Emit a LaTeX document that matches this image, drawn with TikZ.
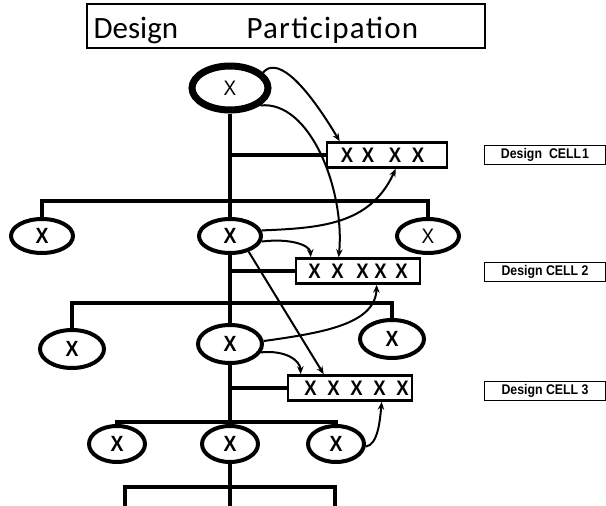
\documentclass[tikz,border=0pt]{standalone}
\usepackage{fontspec}
\setmainfont{Liberation Sans}
\newfontfamily\titlefont{Carlito}
\newfontfamily\xfont[UprightFont=* Bold,FakeStretch=0.88]{Liberation Sans}
\newfontfamily\xlight[FakeStretch=0.9]{Liberation Sans}
\usetikzlibrary{arrows.meta,shapes.geometric}
\tikzset{
  tree/.style={line width=3.4pt},
  person/.style={ellipse,draw,line width=4pt,minimum width=62pt,minimum height=34pt,inner sep=0pt,font=\xfont\fontsize{22}{22}\selectfont},
  cellbox/.style={draw,line width=2.6pt,minimum width=120pt,minimum height=25pt,inner sep=0pt,font=\xfont\fontsize{21}{21}\selectfont},
  lab/.style={draw,line width=1.6pt,minimum width=121pt,minimum height=19pt,inner sep=0pt,font=\xfont\fontsize{14}{14}\selectfont},
  arr/.style={line width=2pt,-{Stealth[length=8pt,width=6.5pt]}},
}
\begin{document}
\begin{tikzpicture}[x=1pt,y=-1pt]
\useasboundingbox (0,0) rectangle (606,506);
% title
\node[draw,line width=1.6pt,minimum width=398pt,minimum height=44pt,inner sep=0pt] (title) at (286,26) {};
\node[font=\titlefont\fontsize{31}{31}\selectfont,anchor=base west] (t1) at (90,38) {Design};
\node[font=\titlefont\fontsize{31}{31}\selectfont\addfontfeature{LetterSpace=4},anchor=base west] (t2) at (243,38) {Participation};
% top
\node[person,line width=7pt,minimum width=76pt,minimum height=44pt,font=\xlight\fontsize{21}{21}\selectfont] (top) at (230,88) {X};
% level 1
\node[person] (a1) at (42,236) {X};
\node[person] (a2) at (230,236) {X};
\node[person,font=\xlight\fontsize{21}{21}\selectfont] (a3) at (428,236) {X};
% level 2
\node[person,minimum width=64pt,minimum height=38pt] (b1) at (72,349) {X};
\node[person,minimum width=64pt,minimum height=38pt] (b2) at (230,344) {X};
\node[person,minimum width=64pt,minimum height=38pt] (b3) at (392,339) {X};
% level 3
\node[person,minimum width=56pt,minimum height=36pt] (c1) at (117,444) {X};
\node[person,minimum width=56pt,minimum height=36pt] (c2) at (230,444) {X};
\node[person,minimum width=56pt,minimum height=36pt] (c3) at (336,444) {X};
% cell boxes
\node[cellbox] (box1) at (387,155) {\hspace{-9pt}X\hspace{8.7pt}X\hspace{14.7pt}X\hspace{10.7pt}X};
\node[cellbox,minimum width=124pt] (box2) at (358,271) {X\hspace{10.7pt}X\hspace{12.7pt}X\hspace{5.7pt}X\hspace{8.7pt}X};
\node[cellbox,minimum width=124pt] (box3) at (350,388) {\hspace{13pt}X\hspace{10.7pt}X\hspace{10.7pt}X\hspace{10.7pt}X\hspace{10.7pt}X};
% labels
\node[lab] (l1) at (545,155) {Design\hspace{7pt}CELL\hspace{1pt}1};
\node[lab] (l2) at (545,272) {Design CELL 2};
\node[lab] (l3) at (545,391) {Design CELL 3};
% junctions
\coordinate (j0) at (230,155);
\coordinate (j1) at (230,201);
\coordinate (k0) at (230,271);
\coordinate (j2) at (230,303);
\coordinate (k1) at (230,388);
\coordinate (j3) at (230,422);
\coordinate (j4) at (230,487);
\coordinate (e1) at (125,506);
\coordinate (e2) at (230,506);
\coordinate (e3) at (335,506);
% tree lines
\draw[tree] (top.south) -- (a2.north);
\draw[tree] (j0) -- (box1.west);
\draw[tree] (a1.north) |- (j1) -| (a3.north);
\draw[tree] (a2.south) -- (b2.north);
\draw[tree] (k0) -- (box2.west);
\draw[tree] (b1.north) |- (j2) -| (b3.north);
\draw[tree] (b2.south) -- (c2.north);
\draw[tree] (k1) -- (box3.west);
\draw[tree] (c1.north) |- (j3) -| (c3.north);
\draw[tree] (c2.south) -- (e2);
\draw[tree] (e1) |- (j4) -| (e3);
% arrows
\draw[arr] (top.25) .. controls (275,58) and (300,75) .. ([xshift=14pt]box1.north west);
\draw[arr] (top.-30) .. controls (310,100) and (345,190) .. ([xshift=44pt]box2.north west);
\draw[arr] (a2.10) .. controls (320,228) and (370,225) .. ([xshift=70pt]box1.south west);
\draw[arr] (a2.-10) .. controls (290,238) and (310,245) .. ([xshift=16pt]box2.north west);
\draw[arr] (a2.-40) -- ([xshift=37pt]box3.north west);
\draw[arr] (b2.5) .. controls (320,333) and (375,325) .. ([xshift=82pt]box2.south west);
\draw[arr] (b2.-15) .. controls (285,350) and (300,360) .. ([xshift=14pt]box3.north west);
\draw[arr] (c3.-5) .. controls (378,445) and (380,420) .. ([xshift=95pt]box3.south west);
\end{tikzpicture}
\end{document}
